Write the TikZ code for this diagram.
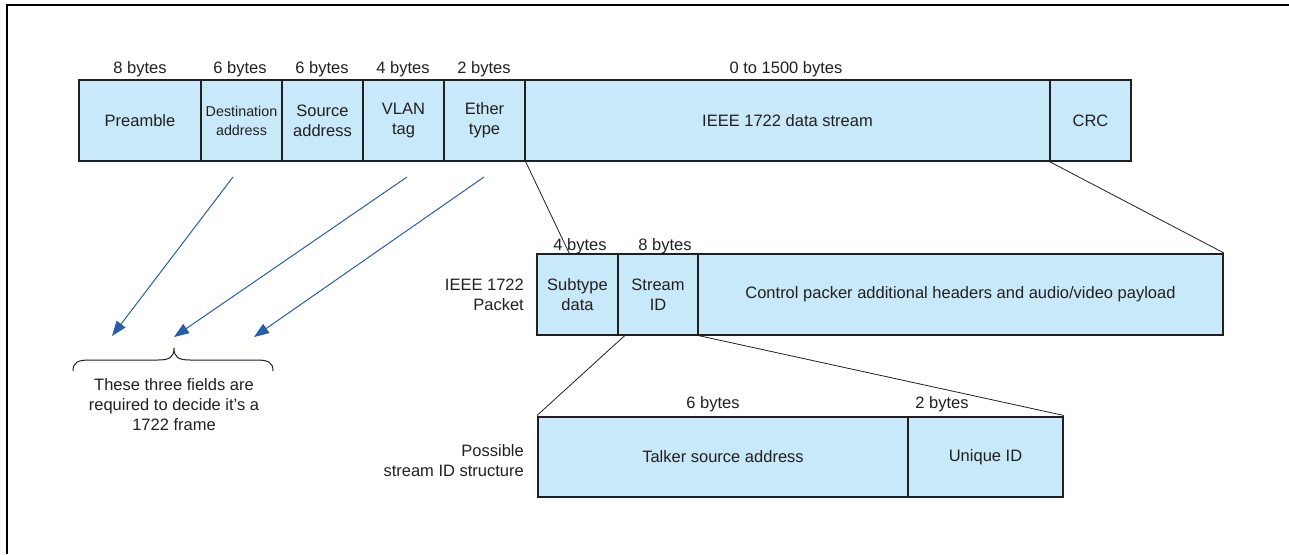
\documentclass[tikz,border=0pt]{standalone}
\usepackage{fontspec}
\setmainfont{Liberation Sans}
\usetikzlibrary{arrows.meta,calc}
\definecolor{fieldblue}{RGB}{199,233,249}
\definecolor{txt}{RGB}{35,31,32}
\definecolor{arrowblue}{RGB}{40,92,172}
\tikzset{
  field/.style={draw=txt, fill=fieldblue, line width=1.2pt, inner sep=0pt, minimum height=81pt, align=center, text=txt, font=\fontsize{16.5}{20}\selectfont},
  outer/.style={draw=txt, line width=2pt, inner sep=0pt},
  bytes/.style={text=txt, font=\fontsize{16.5}{20}\selectfont, inner sep=0pt},
  side/.style={text=txt, font=\fontsize{16.5}{20}\selectfont, align=right, inner sep=0pt, anchor=east},
  zoomline/.style={draw=txt, line width=0.8pt},
  bluearrow/.style={draw=arrowblue, line width=1pt, -{Triangle[length=15pt,width=11pt]}},
  bracestyle/.style={draw=txt, line width=1pt},
  framestyle/.style={draw=black, line width=2pt}
}
\begin{document}
\begin{tikzpicture}[x=1pt,y=-1pt]
\useasboundingbox (0,0) rectangle (1289,554);
\draw[framestyle] (7,554) -- (7,5) -- (1289,5);

% Top row (Ethernet frame)
\node[field, minimum width=122pt] (pre) at (140,120.5) {Preamble};
\node[field, minimum width=81pt, font=\fontsize{14.3}{19}\selectfont] (dest) at (241.5,120.5) {Destination\\address};
\node[field, minimum width=81pt] (src) at (322.5,120.5) {Source\\address};
\node[field, minimum width=81pt] (vlan) at (403.5,120.5) {VLAN\\tag};
\node[field, minimum width=81pt] (eth) at (484.5,120.5) {Ether\\type};
\node[field, minimum width=525pt] (data) at (787.5,120.5) {IEEE 1722 data stream};
\node[field, minimum width=81pt] (crc) at (1090.5,120.5) {CRC};
\node[outer, minimum width=1052pt, minimum height=81pt] (frame) at (605,120.5) {};

\node[bytes] (b1) at (140,69) {8 bytes};
\node[bytes] (b2) at (240,69) {6 bytes};
\node[bytes] (b3) at (322,69) {6 bytes};
\node[bytes] (b4) at (403,69) {4 bytes};
\node[bytes] (b5) at (484,69) {2 bytes};
\node[bytes] (b6) at (786,69) {0 to 1500 bytes};

% IEEE 1722 packet
\node[field, minimum width=81pt] (sub) at (577.5,294.5) {Subtype\\data};
\node[field, minimum width=80pt] (sid) at (658,294.5) {Stream\\ID};
\node[field, minimum width=525pt] (ctrl) at (960.5,294.5) {Control packer additional headers and audio/video payload};
\node[outer, minimum width=686pt, minimum height=81pt] (pkt) at (880,294.5) {};
\node[bytes] (b7) at (580,246) {4 bytes};
\node[bytes] (b8) at (665,246) {8 bytes};
\node[side] (pktlbl) at (524,295) {IEEE 1722\\Packet};

% Stream ID structure
\node[field, minimum width=370pt, minimum height=80.5pt] (talk) at (723,456.75) {Talker source address};
\node[field, minimum width=155pt, minimum height=80.5pt] (uid) at (985.5,456.75) {Unique ID};
\node[outer, minimum width=525pt, minimum height=80.5pt] (sidstruct) at (800.5,456.75) {};
\node[bytes] (b9) at (713,404) {6 bytes};
\node[bytes] (b10) at (942,404) {2 bytes};
\node[side] (sidlbl) at (524,461) {Possible\\stream ID structure};

% Zoom connectors
\draw[zoomline] (eth.south east) -- ($(sub.north west)!0.4!(sub.north east)$);
\draw[zoomline] (crc.south west) -- (pkt.north east);
\draw[zoomline] ($(sid.south west)!0.09!(sid.south east)$) -- (sidstruct.north west);
\draw[zoomline] (sid.south east) -- (sidstruct.north east);

% Blue arrows
\coordinate (a1s) at (233,177);
\coordinate (a2s) at (407,177);
\coordinate (a3s) at (484,177);
\coordinate (a1e) at (112,336);
\coordinate (a2e) at (174,337);
\coordinate (a3e) at (254,337);
\draw[bluearrow] (a1s) -- (a1e);
\draw[bluearrow] (a2s) -- (a2e);
\draw[bluearrow] (a3s) -- (a3e);

% Brace
\draw[bracestyle] (73,371) .. controls (73,362) and (78,360) .. (90,360) -- (158,360) .. controls (170,360) and (174,357) .. (174,348) .. controls (174,357) and (178,360) .. (190,360) -- (256,360) .. controls (268,360) and (273,362) .. (273,371);
\node[bytes, align=center, font=\fontsize{16.5}{20}\selectfont] (note) at (174,405) {These three fields are\\required to decide it’s a\\1722 frame};
\end{tikzpicture}
\end{document}
